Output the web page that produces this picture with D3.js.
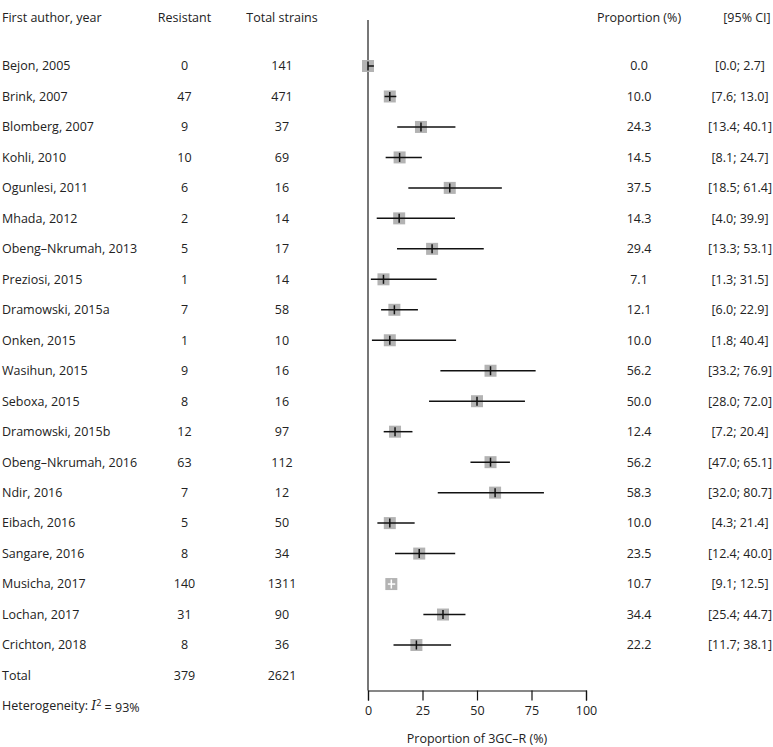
<!DOCTYPE html>
<html>
<head>
<meta charset="utf-8">
<script src="https://cdn.jsdelivr.net/npm/d3@7"></script>
<style>
  html, body { margin: 0; padding: 0; background: #fff; }
  svg { display: block; }
  text { font-family: "Open Sans", "Noto Sans", sans-serif; font-size: 12.5px; fill: #222; }
</style>
</head>
<body>
<svg id="chart" width="773" height="747"></svg>
<script>
const studies = ["Bejon, 2005","Brink, 2007","Blomberg, 2007","Kohli, 2010","Ogunlesi, 2011","Mhada, 2012","Obeng\u2013Nkrumah, 2013","Preziosi, 2015","Dramowski, 2015a","Onken, 2015","Wasihun, 2015","Seboxa, 2015","Dramowski, 2015b","Obeng\u2013Nkrumah, 2016","Ndir, 2016","Eibach, 2016","Sangare, 2016","Musicha, 2017","Lochan, 2017","Crichton, 2018"];
const resistant = [0,47,9,10,6,2,5,1,7,1,9,8,12,63,7,5,8,140,31,8];
const totalStrains = [141,471,37,69,16,14,17,14,58,10,16,16,97,112,12,50,34,1311,90,36];
const proportion = [0.0,10.0,24.3,14.5,37.5,14.3,29.4,7.1,12.1,10.0,56.2,50.0,12.4,56.2,58.3,10.0,23.5,10.7,34.4,22.2];
const lower = [0.0,7.6,13.4,8.1,18.5,4.0,13.3,1.3,6.0,1.8,33.2,28.0,7.2,47.0,32.0,4.3,12.4,9.1,25.4,11.7];
const upper = [2.7,13.0,40.1,24.7,61.4,39.9,53.1,31.5,22.9,40.4,76.9,72.0,20.4,65.1,80.7,21.4,40.0,12.5,44.7,38.1];
const totalResistant = 379;
const totalAll = 2621;
const headers = ["First author, year","Resistant","Total strains","Proportion (%)","[95% CI]"];
const xTicks = [0,25,50,75,100];
const axisTitle = "Proportion of 3GC\u2013R (%)";

const svg = d3.select("#chart");
const x = d3.scaleLinear().domain([0,100]).range([368,586]);
const y = d3.scaleLinear().domain([0,19]).range([66,645]);

const colName = 2, colRes = 184.5, colTot = 282, colProp = 639, colCI = 740;
const headY = 18;

// headers
const hx = [colName, colRes, colTot, colProp, 747];
const ha = ["start","middle","middle","middle","middle"];
headers.forEach((h,i)=>{
  svg.append("text").attr("x",hx[i]).attr("y",headY).attr("dy","0.35em")
    .attr("text-anchor",ha[i]).text(h);
});

// reference line at 0
svg.append("line").attr("x1",x(0)).attr("x2",x(0)).attr("y1",20).attr("y2",690.5)
  .attr("stroke","#777").attr("stroke-width",2);

// rows
const sq = 12;
studies.forEach((s,i)=>{
  const yy = y(i);
  svg.append("text").attr("x",colName).attr("y",yy).attr("dy","0.35em").text(s);
  svg.append("text").attr("x",colRes).attr("y",yy).attr("dy","0.35em").attr("text-anchor","middle").text(resistant[i]);
  svg.append("text").attr("x",colTot).attr("y",yy).attr("dy","0.35em").attr("text-anchor","middle").text(totalStrains[i]);
  svg.append("text").attr("x",colProp).attr("y",yy).attr("dy","0.35em").attr("text-anchor","middle").text(proportion[i].toFixed(1));
  svg.append("text").attr("x",colCI).attr("y",yy).attr("dy","0.35em").attr("text-anchor","middle")
    .text("[" + lower[i].toFixed(1) + "; " + upper[i].toFixed(1) + "]");

  const cx = x(proportion[i]);
  svg.append("rect").attr("x",cx-sq/2).attr("y",yy-sq/2).attr("width",sq).attr("height",sq)
    .attr("fill","#b3b3b3");
  const inside = lower[i] < proportion[i] && (x(lower[i]) > cx - sq/2) && (x(upper[i]) < cx + sq/2);
  const col = inside ? "#fff" : "#111";
  svg.append("line").attr("x1",x(lower[i])).attr("x2",x(upper[i])).attr("y1",yy).attr("y2",yy)
    .attr("stroke",col).attr("stroke-width",1.5);
  svg.append("line").attr("x1",cx).attr("x2",cx).attr("y1",yy-4.5).attr("y2",yy+4.5)
    .attr("stroke",col).attr("stroke-width",1.5);
});

// total row
const totY = y(20);
svg.append("text").attr("x",colName).attr("y",totY).attr("dy","0.35em").text("Total");
svg.append("text").attr("x",colRes).attr("y",totY).attr("dy","0.35em").attr("text-anchor","middle").text(totalResistant);
svg.append("text").attr("x",colTot).attr("y",totY).attr("dy","0.35em").attr("text-anchor","middle").text(totalAll);

// heterogeneity
const het = svg.append("text").attr("x",colName).attr("y",y(21)).attr("dy","0.35em");
het.append("tspan").text("Heterogeneity: ");
het.append("tspan").attr("font-family","'DejaVu Serif', 'Liberation Serif', serif").attr("font-style","italic").text("I");
het.append("tspan").attr("dy","-0.45em").attr("font-size","9px").text("2");
het.append("tspan").attr("dy","0.45em").text(" = 93%");

// axis
const axis = d3.axisBottom(x).tickValues(xTicks).tickSize(10).tickPadding(6).tickFormat(d3.format("d"));
const gA = svg.append("g").attr("transform","translate(0,690.5)").call(axis);
gA.select(".domain").attr("stroke","#111").attr("stroke-width",1.2);
gA.selectAll(".tick line").attr("stroke","#111").attr("stroke-width",1.2);
gA.selectAll(".tick text").attr("font-family","'Open Sans', 'Noto Sans', sans-serif").attr("font-size","13px").attr("fill","#222");

svg.append("text").attr("x",(x(0)+x(100))/2).attr("y",739).attr("dy","0.35em").attr("text-anchor","middle").text(axisTitle);
</script>
</body>
</html>
